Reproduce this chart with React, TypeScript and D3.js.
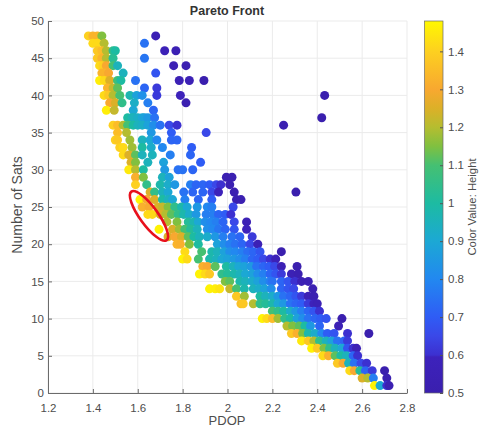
import React, { useEffect, useRef } from "react";
import * as d3 from "d3";

const xTicks = [1.2, 1.4, 1.6, 1.8, 2, 2.2, 2.4, 2.6, 2.8];
const yTicks = [0, 5, 10, 15, 20, 25, 30, 35, 40, 45, 50];
const barTicks = [0.5, 0.6, 0.7, 0.8, 0.9, 1, 1.1, 1.2, 1.3, 1.4];

// colormap
const colorStops = [0.5, 0.595, 0.6, 0.65, 0.7, 0.8, 0.9, 1, 1.1, 1.15, 1.2, 1.25, 1.3, 1.4, 1.48];
const colorValues = ["#3a1fae", "#3d22bc", "#3c30d0", "#3a48e8", "#2f5cf5", "#2288f0", "#1ca8d4", "#1dbba2", "#45c072", "#80c040", "#b5bd30", "#dcb028", "#f8a830", "#fdd020", "#fff800"];

// one row per number of satellites
const sats = [48, 47, 46, 45, 44, 43, 42, 41, 40, 39, 38, 37, 36, 35, 34, 33, 32, 31, 30, 29, 28, 27, 26, 25, 24, 23, 22, 21, 20, 19, 18, 17, 16, 15, 14, 13, 12, 11, 10, 9, 8, 7, 6, 5, 4, 3, 2, 1];

const pdop = [
  [1.38, 1.4, 1.42, 1.44, 1.68],
  [1.4, 1.42, 1.45, 1.63],
  [1.42, 1.44, 1.46, 1.49, 1.5, 1.72, 1.77],
  [1.42, 1.44, 1.46, 1.49, 1.63],
  [1.43, 1.445, 1.46, 1.49, 1.51, 1.76, 1.815],
  [1.44, 1.455, 1.47, 1.535, 1.68],
  [1.43, 1.45, 1.475, 1.51, 1.525, 1.59, 1.785, 1.83, 1.895],
  [1.465, 1.49, 1.51, 1.63, 1.685],
  [1.45, 1.47, 1.49, 1.52, 1.565, 1.595, 1.62, 1.685, 1.79, 2.433],
  [1.475, 1.5, 1.53, 1.585, 1.645, 1.815],
  [1.46, 1.495, 1.58, 1.67],
  [1.555, 1.575, 1.585, 1.6, 1.62, 1.63, 1.645, 1.675, 2.42],
  [1.49, 1.51, 1.535, 1.555, 1.58, 1.6, 1.62, 1.645, 1.67, 1.7, 1.74, 1.775, 2.25],
  [1.51, 1.55, 1.66, 1.75, 1.905],
  [1.5, 1.51, 1.565, 1.62, 1.655, 1.685, 1.75, 1.775],
  [1.52, 1.535, 1.575, 1.62, 1.66, 1.71, 1.84],
  [1.535, 1.56, 1.59, 1.62, 1.665, 1.745, 1.835],
  [1.57, 1.59, 1.645, 1.715, 1.88],
  [1.56, 1.59, 1.625, 1.72, 1.78, 1.8, 1.845],
  [1.59, 1.625, 1.71, 1.74, 1.995, 2.02],
  [1.59, 1.64, 1.7, 1.735, 1.765, 1.835, 1.86, 1.89, 1.92, 1.95, 1.97, 2.01],
  [1.655, 1.675, 1.71, 1.735, 1.805, 1.845, 1.89, 1.93, 1.96, 2.03, 2.305],
  [1.61, 1.64, 1.675, 1.71, 1.735, 1.755, 1.81, 1.87, 1.93, 2.04, 2.06],
  [1.62, 1.65, 1.69, 1.71, 1.735, 1.765, 1.795, 1.82, 1.865, 1.91, 1.93, 2.025],
  [1.645, 1.665, 1.7, 1.725, 1.75, 1.78, 1.805, 1.83, 1.86, 1.905, 1.935, 1.96, 1.99, 2.015],
  [1.73, 1.775, 1.825, 1.85, 1.87, 1.9, 1.925, 1.95, 1.98, 2.03, 2.085],
  [1.695, 1.755, 1.785, 1.81, 1.835, 1.865, 1.91, 1.935, 1.96, 1.99, 2.03, 2.085],
  [1.735, 1.765, 1.795, 1.825, 1.85, 1.875, 1.91, 1.945, 1.98, 2.02, 2.055, 2.11],
  [1.775, 1.79, 1.83, 1.87, 1.955, 1.985, 2.01, 2.035, 2.065, 2.1, 2.135],
  [1.81, 1.885, 1.93, 1.955, 1.985, 2.01, 2.035, 2.065, 2.09, 2.115, 2.145, 2.24],
  [1.8, 1.82, 1.87, 1.92, 1.95, 1.975, 2, 2.03, 2.055, 2.08, 2.11, 2.135, 2.16, 2.19, 2.215],
  [1.89, 1.91, 1.945, 1.995, 2.025, 2.05, 2.075, 2.105, 2.13, 2.16, 2.185, 2.21, 2.24, 2.31],
  [1.875, 1.9, 1.92, 1.975, 2, 2.03, 2.055, 2.08, 2.11, 2.135, 2.16, 2.19, 2.215, 2.24, 2.285, 2.315],
  [1.99, 2.01, 2.055, 2.08, 2.11, 2.135, 2.16, 2.19, 2.2, 2.24, 2.27, 2.3, 2.33, 2.36],
  [1.92, 1.945, 1.965, 2.01, 2.04, 2.075, 2.115, 2.14, 2.165, 2.195, 2.24, 2.27, 2.295, 2.38],
  [2.04, 2.075, 2.145, 2.17, 2.2, 2.225, 2.25, 2.28, 2.305, 2.33, 2.36, 2.385],
  [2.06, 2.07, 2.115, 2.145, 2.17, 2.2, 2.225, 2.25, 2.28, 2.305, 2.33, 2.36, 2.385, 2.4],
  [2.2, 2.225, 2.25, 2.28, 2.305, 2.33, 2.36, 2.385, 2.41],
  [2.155, 2.175, 2.2, 2.225, 2.255, 2.28, 2.31, 2.335, 2.36, 2.39, 2.415, 2.44, 2.51],
  [2.265, 2.29, 2.32, 2.345, 2.37, 2.41, 2.495],
  [2.285, 2.31, 2.335, 2.36, 2.39, 2.42, 2.445, 2.475, 2.535, 2.63],
  [2.33, 2.36, 2.385, 2.41, 2.44, 2.465, 2.49, 2.52, 2.535],
  [2.375, 2.4, 2.43, 2.455, 2.48, 2.51, 2.535, 2.56, 2.575],
  [2.425, 2.45, 2.48, 2.505, 2.53, 2.56, 2.58],
  [2.49, 2.515, 2.54, 2.565, 2.595, 2.62],
  [2.545, 2.565, 2.59, 2.615, 2.645, 2.7],
  [2.6, 2.625, 2.65, 2.71],
  [2.655, 2.68, 2.71, 2.72],
];

const height = [
  [1.4, 1.33, 1.33, 1.15, 0.54],
  [1.42, 1.42, 1.2, 0.75],
  [1.38, 1.35, 1.2, 1.05, 1, 0.56, 0.54],
  [1.38, 1.33, 1.2, 1.03, 0.76],
  [1.42, 1.4, 1.3, 1.1, 0.95, 0.55, 0.52],
  [1.33, 1.33, 1.3, 0.95, 0.68],
  [1.46, 1.42, 1.25, 1.08, 1, 0.75, 0.55, 0.55, 0.5],
  [1.33, 1.22, 1.12, 0.72, 0.62],
  [1.42, 1.38, 1.2, 1.1, 0.97, 0.88, 0.83, 0.62, 0.58, 0.5],
  [1.3, 1.25, 1.05, 0.93, 0.78, 0.52],
  [1.46, 1.22, 0.9, 0.72],
  [1, 0.97, 0.95, 0.93, 0.9, 0.88, 0.85, 0.75, 0.5],
  [1.4, 1.35, 1.2, 1.1, 1, 0.95, 0.93, 0.88, 0.82, 0.75, 0.65, 0.6, 0.52],
  [1.35, 1.2, 0.85, 0.7, 0.65],
  [1.4, 1.38, 1.18, 0.95, 0.9, 0.8, 0.72, 0.72],
  [1.4, 1.42, 1.18, 1, 0.92, 0.8, 0.7],
  [1.42, 1.25, 1.12, 0.95, 0.95, 0.78, 0.72],
  [1.25, 1.15, 0.95, 0.88, 0.7],
  [1.45, 1.2, 1, 0.85, 0.75, 0.75, 0.72],
  [1.32, 1.15, 0.95, 0.88, 0.52, 0.52],
  [1.4, 1.05, 0.98, 0.92, 0.85, 0.78, 0.72, 0.72, 0.7, 0.65, 0.6, 0.52],
  [1.25, 1.05, 0.95, 0.9, 0.75, 0.72, 0.72, 0.65, 0.58, 0.52, 0.5],
  [1.47, 1.3, 1.25, 1, 0.95, 0.9, 0.78, 0.72, 0.7, 0.52, 0.52],
  [1.32, 1.3, 1.25, 1.22, 1.15, 1.05, 0.98, 0.9, 0.85, 0.8, 0.78, 0.65],
  [1.42, 1.42, 1.25, 1.2, 1.12, 1.05, 0.98, 0.92, 0.85, 0.78, 0.78, 0.72, 0.7, 0.6],
  [1.2, 1.15, 1.02, 0.97, 0.9, 0.82, 0.8, 0.78, 0.72, 0.65, 0.55],
  [1.47, 1.25, 1.18, 1.1, 1.02, 0.95, 0.82, 0.8, 0.76, 0.72, 0.68, 0.58],
  [1.25, 1.3, 1.25, 1.12, 1, 0.95, 0.92, 0.85, 0.78, 0.75, 0.72, 0.62],
  [1.33, 1.32, 1.15, 1, 0.88, 0.82, 0.78, 0.75, 0.72, 0.65, 0.55],
  [1.42, 1.1, 0.98, 0.95, 0.88, 0.82, 0.8, 0.78, 0.74, 0.72, 0.68, 0.5],
  [1.47, 1.42, 1.1, 0.98, 0.95, 0.9, 0.88, 0.85, 0.82, 0.78, 0.72, 0.7, 0.65, 0.6, 0.56],
  [1.32, 1.3, 1.12, 1, 0.95, 0.9, 0.88, 0.85, 0.75, 0.72, 0.7, 0.65, 0.55, 0.5],
  [1.47, 1.42, 1.38, 1.05, 1.02, 0.98, 0.95, 0.9, 0.88, 0.82, 0.78, 0.72, 0.68, 0.62, 0.55, 0.52],
  [1.15, 1.12, 0.98, 0.95, 0.92, 0.88, 0.82, 0.78, 0.75, 0.72, 0.68, 0.6, 0.55, 0.55],
  [1.47, 1.46, 1.44, 1.22, 1.1, 0.98, 0.95, 0.92, 0.88, 0.82, 0.72, 0.68, 0.65, 0.52],
  [1.38, 1.18, 1, 0.95, 0.92, 0.85, 0.75, 0.72, 0.68, 0.62, 0.55, 0.52],
  [1.36, 1.38, 1.2, 1.05, 1.02, 0.98, 0.9, 0.85, 0.75, 0.72, 0.7, 0.62, 0.58, 0.55],
  [1.1, 1.05, 1, 0.92, 0.85, 0.78, 0.72, 0.68, 0.6],
  [1.47, 1.42, 1.35, 1.18, 1.05, 1, 0.88, 0.82, 0.75, 0.72, 0.7, 0.68, 0.5],
  [1.2, 1.15, 1.12, 1, 0.85, 0.72, 0.55],
  [1.38, 1.32, 1.15, 0.98, 0.92, 0.8, 0.7, 0.68, 0.6, 0.5],
  [1.45, 1.38, 1.2, 1.05, 0.95, 0.88, 0.75, 0.72, 0.62],
  [1.47, 1.38, 1.15, 1.05, 0.95, 0.9, 0.68, 0.6, 0.55],
  [1.42, 1.32, 1.12, 1, 0.95, 0.72, 0.6],
  [1.38, 1.3, 0.95, 0.75, 0.65, 0.6],
  [1.42, 1.3, 1.02, 0.72, 0.62, 0.5],
  [1.25, 1.2, 0.78, 0.52],
  [1.47, 0.9, 0.6, 0.52],
];

const points = sats.flatMap((n, i) =>
  pdop[i].map((p, j) => ({ n, p, h: height[i][j] }))
);

const App = () => {
  const ref = useRef<SVGSVGElement | null>(null);

  useEffect(() => {
    const svg = d3.select(ref.current);
    svg.selectAll("*").remove();

    const x = d3.scaleLinear().domain([1.2, 2.8]).range([48, 407]);
    const y = d3.scaleLinear().domain([0, 50]).range([393, 21]);
    const barY = d3.scaleLinear().domain([0.5, 1.48]).range([393, 21]);
    const color = d3.scaleLinear<string>().domain(colorStops).range(colorValues);

    const font = "'Liberation Sans', Arial, sans-serif";
    const textColor = "#4d4d4d";

    // grid
    const grid = svg.append("g").attr("stroke", "#ebebeb").attr("stroke-width", 1);
    xTicks.forEach((t) => {
      grid.append("line").attr("x1", x(t)).attr("x2", x(t)).attr("y1", 21).attr("y2", 393);
    });
    yTicks.forEach((t) => {
      grid.append("line").attr("x1", 48).attr("x2", 407).attr("y1", y(t)).attr("y2", y(t));
    });

    // points
    svg
      .append("g")
      .selectAll("circle")
      .data(points)
      .enter()
      .append("circle")
      .attr("cx", (d) => x(d.p))
      .attr("cy", (d) => y(d.n))
      .attr("r", 4.5)
      .attr("fill", (d) => color(d.h));

    // highlighted group
    const cx = x(1.65);
    const cy = y(23.8);
    svg
      .append("ellipse")
      .attr("cx", cx)
      .attr("cy", cy)
      .attr("rx", 30)
      .attr("ry", 9)
      .attr("transform", `rotate(54 ${cx} ${cy})`)
      .attr("fill", "none")
      .attr("stroke", "#e8101c")
      .attr("stroke-width", 2.6);

    // axes
    const xAxis = svg
      .append("g")
      .attr("transform", "translate(0,393)")
      .call(d3.axisBottom(x).tickValues(xTicks).tickSizeInner(-4).tickSizeOuter(0).tickPadding(7).tickFormat((d) => String(d)));
    const yAxis = svg
      .append("g")
      .attr("transform", "translate(48,0)")
      .call(d3.axisLeft(y).tickValues(yTicks).tickSizeInner(-4).tickSizeOuter(0).tickPadding(4).tickFormat((d) => String(d)));
    [xAxis, yAxis].forEach((a) => {
      a.selectAll("path,line").attr("stroke", "#6b6b6b");
      a.selectAll("text").attr("fill", textColor).style("font-family", font).style("font-size", "11.5px");
    });
    xAxis.selectAll("text").attr("dy", "1.05em");

    // colorbar
    const defs = svg.append("defs");
    const grad = defs
      .append("linearGradient")
      .attr("id", "heightBar")
      .attr("x1", 0)
      .attr("x2", 0)
      .attr("y1", 1)
      .attr("y2", 0);
    colorStops.forEach((s, i) => {
      grad.append("stop").attr("offset", (s - 0.5) / 0.98).attr("stop-color", colorValues[i]);
    });
    svg
      .append("rect")
      .attr("x", 424.5)
      .attr("y", 21)
      .attr("width", 18.5)
      .attr("height", 372)
      .attr("fill", "url(#heightBar)")
      .attr("stroke", "#6b6b6b")
      .attr("stroke-width", 0.7);
    const bar = svg
      .append("g")
      .attr("transform", "translate(443,0)")
      .call(d3.axisRight(barY).tickValues(barTicks).tickSizeInner(-3).tickSizeOuter(0).tickPadding(5).tickFormat((d) => String(d)));
    bar.select("path").remove();
    bar.selectAll("line").attr("stroke", "#555");
    bar.selectAll("text").attr("fill", textColor).style("font-family", font).style("font-size", "11.5px");

    // labels
    const label = (text: string, px: number, py: number, size: number, rotate = 0, weight = "normal", fill = textColor) =>
      svg
        .append("text")
        .attr("transform", `translate(${px},${py}) rotate(${rotate})`)
        .attr("text-anchor", "middle")
        .attr("fill", fill)
        .style("font-family", font)
        .style("font-size", `${size}px`)
        .style("font-weight", weight)
        .text(text);

    label("Pareto Front", 227, 15, 12.5, 0, "bold", "#333");
    label("PDOP", 227, 425, 13);
    label("Number of Sats", 22, 205, 14, -90);
    label("Color Value: Height", 476, 207, 11.3, -90);
  }, []);

  return (
    <svg
      ref={ref}
      width={481}
      height={429}
      style={{ position: "absolute", left: 0, top: 0, background: "#fff" }}
    />
  );
};

export default App;
